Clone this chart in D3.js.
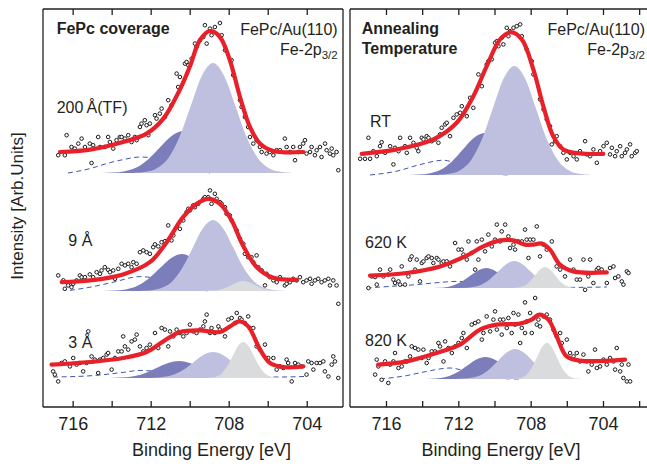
<!DOCTYPE html>
<html><head><meta charset="utf-8">
<script src="https://cdn.jsdelivr.net/npm/d3@7"></script>
<style>body{margin:0;background:#fff}svg{display:block;font-family:"Liberation Sans",Arial,sans-serif}</style>
</head><body><svg id="c" width="647" height="466"></svg>
<script>
// ---------- axis ticks ----------
const energyTicks = [716,714,712,710,708,706,704,702];
const energyLabels = [716,712,708,704];

// ---------- stack offsets (baseline of each spectrum, arb. units) ----------
const coverageOffsets = [11.7, 5.8, 1.45];
const annealOffsets = [11.6, 5.95, 1.4];
const coverageLabels = ["200\u2009Å(TF)", "9 Å", "3 Å"];
const annealLabels = ["RT", "620 K", "820 K"];

// ================= FePc coverage: 200 Å (TF) =================
const cov200Fit = [[716.65,1.05],[715.11,1.17],[713.42,1.55],[712.21,1.97],[711.35,2.72],[710.52,4.14],[710.0,5.3],[709.48,6.64],[708.96,7.1],[708.45,6.8],[707.94,5.64],[707.42,3.8],[706.91,2.3],[706.4,1.47],[705.71,1.1],[704.17,1.05]];
const cov200Dash = [[716.24,0],[715.11,0.22],[714.26,0.47],[713.41,0.67],[712.55,0.8],[712.04,0.77],[711.01,0.5],[709.98,0.25],[708.96,0]];
const cov200Dark = [[706.13,0],[706.73,0.02],[707.33,0.09],[707.93,0.28],[708.53,0.68],[709.13,1.27],[709.73,1.85],[710.33,2.1],[710.93,1.85],[711.53,1.27],[712.13,0.68],[712.73,0.28],[713.33,0.09],[713.93,0.02],[714.53,0]];
const cov200Light = [[704.78,0.01],[705.35,0.06],[705.93,0.24],[706.5,0.74],[707.08,1.79],[707.65,3.34],[708.23,4.85],[708.8,5.5],[709.38,4.85],[709.95,3.34],[710.53,1.79],[711.1,0.74],[711.68,0.24],[712.25,0.06],[712.83,0.01]];
const cov200Pts = [[716.74,0.89],[716.40,0.89],[716.31,1.89],[716.06,1.30],[715.89,1.22],[715.71,1.47],[715.54,1.72],[715.37,1.30],[715.12,1.47],[715.03,0.50],[714.95,1.39],[714.69,1.80],[714.60,1.30],[714.35,1.30],[714.18,1.80],[714.09,1.55],[713.92,1.22],[713.75,1.64],[713.58,1.80],[713.49,1.80],[713.32,1.72],[713.15,1.89],[712.98,1.55],[712.81,1.80],[712.72,1.64],[712.55,2.30],[712.47,2.47],[712.30,2.64],[712.21,2.39],[712.12,1.89],[712.04,2.47],[711.78,2.89],[711.70,2.72],[711.53,2.97],[711.44,3.22],[711.27,2.80],[711.10,3.64],[710.93,3.39],[710.67,4.97],[710.59,4.30],[710.50,4.80],[710.24,5.47],[710.16,5.55],[710.07,5.39],[709.90,5.72],[709.73,6.47],[709.65,6.30],[709.47,6.64],[709.30,6.80],[709.22,7.39],[709.13,6.47],[708.96,7.22],[708.88,6.89],[708.71,7.30],[708.45,7.50],[708.36,6.89],[708.19,6.14],[707.85,5.64],[707.77,4.89],[707.42,3.64],[707.34,3.30],[707.17,2.80],[707.00,2.30],[706.91,1.80],[706.74,1.47],[706.57,1.64],[706.40,1.30],[706.31,1.05],[706.06,0.97],[705.89,1.05],[705.71,0.89],[705.54,1.14],[705.37,1.14],[705.12,1.72],[705.03,1.30],[704.86,1.05],[704.69,1.30],[704.60,0.64],[704.43,1.05],[704.35,1.30],[704.18,1.47],[704.09,1.64],[704.01,0.97],[703.83,1.05],[703.75,1.30],[703.58,0.89],[703.49,1.14],[703.32,1.30],[703.24,0.80],[703.06,1.47],[702.98,1.14],[702.81,0.97],[702.72,1.22],[702.64,0.89],[702.47,1.05],[702.38,0.14]];

// ================= FePc coverage: 9 Å =================
const cov9Fit = [[716.56,0.44],[715.11,0.53],[713.42,0.83],[712.04,1.44],[711.18,2.44],[710.34,3.69],[709.64,4.36],[709.06,4.61],[708.45,4.36],[707.85,3.53],[707.27,2.28],[706.56,1.19],[705.71,0.66],[704.51,0.56]];
const cov9Dash = [[716.14,0.03],[715.11,0.19],[713.92,0.44],[712.55,0.72],[711.87,0.66],[711.01,0.43],[709.98,0.13],[708.96,0]];
const cov9Dark = [[706.38,0],[706.95,0.02],[707.53,0.08],[708.1,0.25],[708.68,0.6],[709.25,1.12],[709.83,1.63],[710.4,1.85],[710.98,1.63],[711.55,1.12],[712.13,0.6],[712.7,0.25],[713.28,0.08],[713.85,0.02],[714.43,0]];
const cov9Light = [[705.13,0.01],[705.65,0.04],[706.18,0.16],[706.7,0.48],[707.23,1.15],[707.75,2.15],[708.28,3.13],[708.8,3.55],[709.33,3.13],[709.85,2.15],[710.38,1.15],[710.9,0.48],[711.43,0.16],[711.95,0.04],[712.48,0.01]];
const cov9Gray = [[705.15,0],[705.45,0.01],[705.75,0.02],[706.05,0.07],[706.35,0.16],[706.65,0.3],[706.95,0.44],[707.25,0.5],[707.55,0.44],[707.85,0.3],[708.15,0.16],[708.45,0.07],[708.75,0.02],[709.05,0.01],[709.35,0]];
const cov9Pts = [[716.74,0.78],[716.48,0.53],[716.40,0.11],[716.23,0.28],[716.06,0.19],[715.97,0.36],[715.80,0.53],[715.63,0.78],[715.54,0.69],[715.37,0.69],[715.12,0.83],[714.95,0.69],[714.77,0.94],[714.60,0.86],[714.52,1.03],[714.35,1.19],[714.18,1.06],[714.09,0.94],[713.92,1.03],[713.83,0.61],[713.66,1.11],[713.49,1.36],[713.32,1.28],[713.15,1.36],[712.98,1.19],[712.89,1.44],[712.72,1.36],[712.55,1.94],[712.38,2.03],[712.21,1.94],[712.04,1.86],[711.87,2.19],[711.78,2.33],[711.61,2.23],[711.44,2.44],[711.27,2.49],[711.10,3.28],[710.93,2.53],[710.84,2.78],[710.67,3.19],[710.50,3.11],[710.33,3.53],[710.16,3.94],[710.07,4.11],[709.99,4.03],[709.82,4.28],[709.73,4.19],[709.56,4.36],[709.30,4.61],[709.22,4.69],[709.05,4.69],[708.96,5.03],[708.88,4.36],[708.71,4.86],[708.62,4.61],[708.45,4.44],[708.36,4.36],[708.19,4.19],[708.11,3.86],[707.94,3.78],[707.85,3.53],[707.59,3.03],[707.42,2.61],[707.25,2.36],[707.17,1.86],[707.00,1.69],[706.83,1.69],[706.74,1.44],[706.57,1.78],[706.48,1.19],[706.31,1.03],[706.14,0.28],[706.06,0.86],[705.89,0.69],[705.71,0.53],[705.54,0.44],[705.37,0.69],[705.12,0.28],[705.03,0.36],[704.86,0.44],[704.69,0.61],[704.52,0.53],[704.35,0.69],[704.18,0.44],[704.01,0.53],[703.83,0.61],[703.75,0.36],[703.58,0.53],[703.41,0.61],[703.24,0.44],[703.07,0.53],[702.89,0.61],[702.81,0.28],[702.64,0.53],[702.47,0.28],[702.38,-0.64]];

// ================= FePc coverage: 3 Å =================
const cov3Fit = [[717.08,0.67],[715.11,0.8],[713.41,1.0],[712.21,1.3],[711.35,1.83],[710.5,2.3],[709.47,2.38],[708.45,2.3],[707.93,2.58],[707.45,2.83],[707.0,2.58],[706.39,1.42],[705.88,0.75],[705.2,0.55],[704.17,0.58]];
const cov3Dash = [[717.0,0.05],[715.11,0.11],[713.41,0.28],[712.55,0.38],[711.95,0.35],[710.5,0.2],[708.45,0.06],[705.46,0.05],[704.0,0.08]];
const cov3Dark = [[706.7,0],[707.25,0.01],[707.8,0.04],[708.35,0.11],[708.9,0.28],[709.45,0.52],[710.0,0.75],[710.55,0.85],[711.1,0.75],[711.65,0.52],[712.2,0.28],[712.75,0.11],[713.3,0.04],[713.85,0.01],[714.4,0]];
const cov3Light = [[705.3,0],[705.8,0.01],[706.3,0.06],[706.8,0.18],[707.3,0.42],[707.8,0.79],[708.3,1.15],[708.8,1.3],[709.3,1.15],[709.8,0.79],[710.3,0.42],[710.8,0.18],[711.3,0.06],[711.8,0.01],[712.3,0]];
const cov3Gray = [[705.33,0],[705.6,0.02],[705.88,0.08],[706.15,0.24],[706.43,0.59],[706.7,1.09],[706.98,1.59],[707.25,1.8],[707.53,1.59],[707.8,1.09],[708.08,0.59],[708.35,0.24],[708.63,0.08],[708.9,0.02],[709.18,0]];
const cov3Pts = [[717.0,0.33],[716.91,0.17],[716.74,-0.17],[716.57,0.75],[716.40,0.83],[716.14,0.58],[715.97,1.0],[715.80,0.67],[715.63,0.75],[715.46,0.33],[715.29,0.75],[715.20,2.33],[715.03,1.08],[714.86,0.92],[714.69,0.25],[714.60,0.92],[714.43,1.0],[714.26,1.17],[714.18,1.25],[714.00,0.42],[713.83,1.0],[713.66,1.33],[713.49,1.33],[713.41,2.08],[713.32,1.58],[713.15,1.42],[712.98,1.83],[712.81,1.92],[712.72,2.17],[712.55,1.58],[712.38,1.33],[712.21,1.5],[712.04,1.67],[711.78,2.25],[711.61,1.5],[711.44,2.5],[711.27,2.42],[711.10,1.58],[711.01,2.33],[710.84,2.08],[710.67,2.42],[710.50,2.25],[710.33,2.08],[710.16,2.25],[709.99,2.67],[709.82,2.33],[709.65,2.25],[709.47,2.42],[709.30,2.58],[709.22,2.83],[709.13,3.17],[708.96,2.25],[708.88,2.5],[708.71,2.25],[708.53,2.58],[708.45,2.42],[708.19,2.08],[708.02,2.92],[707.85,3.0],[707.68,2.75],[707.59,3.25],[707.42,3.0],[707.34,2.92],[707.17,2.75],[707.0,3.08],[706.91,2.5],[706.74,2.5],[706.57,1.58],[706.40,1.42],[706.14,1.67],[705.97,1.0],[705.71,1.0],[705.54,0.42],[705.37,0.58],[705.20,0.5],[705.03,0.92],[704.95,0.75],[704.77,-0.17],[704.60,0.75],[704.43,0.67],[704.26,0.58],[704.01,0.17],[703.92,0.83],[703.75,0.75],[703.66,0.42],[703.49,0.75],[703.32,0.75],[703.15,0.83],[703.07,0.33],[702.89,0.08],[702.72,0.67],[702.64,1.08],[702.55,0.83],[702.38,0.0]];

// ================= Annealing: RT =================
const rtFit = [[717.34,1.06],[715.41,1.28],[713.38,1.78],[712.09,2.61],[711.17,3.94],[710.43,5.44],[709.69,6.78],[709.1,7.14],[708.49,6.78],[707.85,5.28],[707.3,3.44],[706.75,1.94],[706.19,1.28],[705.27,1.08],[703.98,1.06]];
const rtDash = [[716.88,0],[715.41,0.19],[714.12,0.52],[712.83,0.74],[712.28,0.64],[711.35,0.38],[710.25,0.08],[709.14,0]];
const rtDark = [[706.35,0],[706.95,0.02],[707.55,0.09],[708.15,0.28],[708.75,0.68],[709.35,1.27],[709.95,1.85],[710.55,2.1],[711.15,1.85],[711.75,1.27],[712.35,0.68],[712.95,0.28],[713.55,0.09],[714.15,0.02],[714.75,0]];
const rtLight = [[704.7,0.01],[705.3,0.06],[705.9,0.24],[706.5,0.74],[707.1,1.77],[707.7,3.31],[708.3,4.81],[708.9,5.45],[709.5,4.81],[710.1,3.31],[710.7,1.77],[711.3,0.74],[711.9,0.24],[712.5,0.06],[713.1,0.01]];
const rtPts = [[717.43,0.81],[717.16,0.81],[716.97,1.86],[716.88,0.81],[716.70,1.19],[716.51,0.94],[716.33,1.44],[716.24,1.64],[716.05,1.11],[715.77,1.44],[715.59,0.53],[715.50,1.36],[715.31,1.19],[715.22,1.86],[714.95,1.44],[714.85,1.11],[714.67,1.86],[714.48,1.61],[714.30,1.36],[714.21,1.19],[714.02,1.86],[713.93,1.78],[713.75,1.94],[713.65,1.86],[713.47,1.69],[713.29,1.78],[713.10,1.61],[713.01,2.03],[712.92,2.36],[712.73,2.53],[712.64,2.61],[712.46,1.94],[712.27,2.86],[712.09,3.03],[711.90,3.11],[711.81,3.44],[711.53,2.94],[711.35,3.86],[711.17,3.36],[710.89,5.03],[710.70,4.44],[710.43,5.53],[710.34,5.69],[710.15,5.78],[709.97,6.61],[709.87,6.69],[709.78,6.44],[709.60,6.86],[709.51,6.53],[709.32,7.36],[709.23,6.94],[709.14,7.19],[708.95,7.36],[708.77,7.44],[708.58,7.53],[708.49,6.94],[708.22,6.28],[707.94,5.69],[707.85,5.03],[707.48,3.78],[707.29,3.28],[707.11,2.78],[706.93,2.44],[706.83,1.53],[706.65,1.69],[706.56,1.94],[706.37,1.44],[706.19,1.11],[706.00,0.78],[705.82,1.11],[705.63,0.94],[705.45,0.78],[705.27,1.19],[704.99,1.69],[704.90,1.03],[704.71,0.94],[704.53,1.28],[704.34,0.61],[704.16,1.19],[703.97,1.44],[703.79,1.61],[703.61,1.03],[703.51,1.36],[703.33,0.94],[703.24,1.19],[703.05,1.44],[702.96,0.94],[702.78,1.11],[702.68,1.28],[702.50,1.53],[702.41,0.94],[702.22,1.11],[702.13,1.19]];

// ================= Annealing: 620 K =================
const k620Fit = [[716.88,0.62],[714.86,0.75],[713.01,1.08],[711.54,1.62],[710.62,2.08],[709.69,2.38],[708.96,2.38],[708.31,2.17],[707.85,2.17],[707.39,2.22],[706.93,1.92],[706.38,1.17],[705.64,0.83],[703.79,0.78]];
const k620Dash = [[717.07,0],[715.78,0.08],[714.30,0.17],[713.01,0.28],[712.09,0.33],[710.8,0.25],[708.59,0.05],[705.82,0.03],[703.79,0.05]];
const k620Dark = [[707.3,0],[707.75,0.01],[708.2,0.04],[708.65,0.14],[709.1,0.33],[709.55,0.61],[710.0,0.88],[710.45,1.0],[710.9,0.88],[711.35,0.61],[711.8,0.33],[712.25,0.14],[712.7,0.04],[713.15,0.01],[713.6,0]];
const k620Light = [[705.75,0],[706.2,0.01],[706.65,0.06],[707.1,0.18],[707.55,0.44],[708.0,0.82],[708.45,1.19],[708.9,1.35],[709.35,1.19],[709.8,0.82],[710.25,0.44],[710.7,0.18],[711.15,0.06],[711.6,0.01],[712.05,0]];
const k620Gray = [[705.28,0],[705.55,0.01],[705.83,0.05],[706.1,0.14],[706.38,0.34],[706.65,0.64],[706.93,0.93],[707.2,1.05],[707.48,0.93],[707.75,0.64],[708.03,0.34],[708.3,0.14],[708.58,0.05],[708.85,0.01],[709.13,0]];
const k620Pts = [[716.97,0.0],[716.79,0.58],[716.60,0.55],[716.51,0.17],[716.33,0.92],[716.14,0.58],[715.87,0.67],[715.77,0.92],[715.59,0.42],[715.50,0.25],[715.31,0.33],[715.22,0.17],[715.13,1.08],[714.95,0.17],[714.76,0.58],[714.67,1.42],[714.58,1.58],[714.39,0.92],[714.30,1.42],[714.12,0.33],[714.02,1.25],[713.93,1.33],[713.75,1.5],[713.65,1.58],[713.47,1.5],[713.38,1.25],[713.19,1.5],[713.10,1.42],[712.92,1.25],[712.82,1.33],[712.64,1.33],[712.46,1.08],[712.18,2.25],[711.99,1.92],[711.81,1.92],[711.72,1.67],[711.53,1.42],[711.44,2.33],[711.26,1.75],[711.07,0.92],[710.98,2.33],[710.89,1.42],[710.70,2.42],[710.52,1.83],[710.34,2.67],[710.15,2.08],[709.97,2.42],[709.87,3.17],[709.69,2.33],[709.60,2.83],[709.41,3.17],[709.23,2.58],[709.14,2.0],[708.95,2.17],[708.86,1.92],[708.68,2.33],[708.49,2.33],[708.31,2.92],[708.22,2.42],[708.12,1.5],[708.03,2.42],[707.85,2.42],[707.66,3.08],[707.48,1.58],[707.29,2.17],[707.11,1.92],[706.83,2.33],[706.56,1.08],[706.37,0.92],[706.10,0.58],[705.82,1.42],[705.63,0.92],[705.45,0.42],[705.27,0.42],[705.08,1.42],[704.99,-0.09],[704.81,0.58],[704.71,1.42],[704.53,0.25],[704.34,0.92],[704.25,1.0],[704.07,0.92],[703.79,0.25],[703.61,1.0],[703.42,1.08],[703.33,0.5],[703.15,0.58],[702.96,0.33],[702.87,0.17],[702.68,0.83],[702.59,0.75],[708.31,-0.72],[707.75,-0.5]];

// ================= Annealing: 820 K =================
const k820Fit = [[716.43,0.72],[714.86,0.88],[713.2,1.3],[711.91,1.72],[710.8,2.47],[709.88,2.72],[708.59,2.77],[707.94,2.97],[707.52,3.22],[707.02,2.97],[706.56,2.13],[706.01,1.13],[705.27,0.92],[702.78,0.97]];
const k820Dash = [[716.33,0],[714.86,0.17],[713.75,0.38],[712.46,0.55],[711.91,0.47],[711.08,0.27],[709.97,0.04],[708.59,0]];
const k820Dark = [[707.0,0],[707.5,0.01],[708.0,0.05],[708.5,0.15],[709.0,0.36],[709.5,0.67],[710.0,0.97],[710.5,1.1],[711.0,0.97],[711.5,0.67],[712.0,0.36],[712.5,0.15],[713.0,0.05],[713.5,0.01],[714.0,0]];
const k820Light = [[705.53,0],[706.0,0.02],[706.48,0.07],[706.95,0.2],[707.43,0.49],[707.9,0.91],[708.38,1.32],[708.85,1.5],[709.33,1.32],[709.8,0.91],[710.28,0.49],[710.75,0.2],[711.23,0.07],[711.7,0.02],[712.18,0]];
const k820Gray = [[705.18,0],[705.45,0.02],[705.73,0.08],[706.0,0.24],[706.28,0.59],[706.55,1.09],[706.83,1.59],[707.1,1.8],[707.38,1.59],[707.65,1.09],[707.93,0.59],[708.2,0.24],[708.48,0.08],[708.75,0.02],[709.03,0]];
const k820Pts = [[716.60,0.22],[716.51,0.97],[716.42,0.63],[716.24,-0.04],[716.05,0.88],[715.87,-0.2],[715.77,0.72],[715.59,0.88],[715.50,1.3],[715.31,0.55],[715.13,0.63],[714.95,0.88],[714.85,0.88],[714.67,1.13],[714.58,1.63],[714.39,1.55],[714.21,1.47],[714.02,1.05],[713.93,1.47],[713.75,0.8],[713.65,1.05],[713.47,1.38],[713.29,1.38],[713.10,1.8],[713.01,1.63],[712.82,0.88],[712.73,1.88],[712.55,1.55],[712.36,1.3],[712.18,1.63],[711.99,1.8],[711.81,2.05],[711.72,2.3],[711.53,1.55],[711.26,2.72],[711.07,2.8],[710.89,2.88],[710.70,1.97],[710.61,2.3],[710.43,3.13],[710.24,2.38],[710.06,2.97],[709.97,3.38],[709.87,2.47],[709.69,2.97],[709.60,2.22],[709.51,2.97],[709.32,2.55],[709.23,3.05],[709.05,2.3],[708.95,3.3],[708.86,2.72],[708.68,3.22],[708.58,1.8],[708.49,2.55],[708.31,2.3],[708.22,2.88],[708.03,3.3],[707.94,2.3],[707.66,2.72],[707.57,2.97],[707.48,2.63],[707.29,3.13],[707.11,3.22],[706.93,2.97],[706.74,2.47],[706.56,2.13],[706.37,2.3],[706.28,1.8],[706.00,1.97],[705.82,1.3],[705.63,1.13],[705.45,1.3],[705.27,0.88],[705.08,1.22],[704.90,0.88],[704.81,0.38],[704.62,0.72],[704.44,1.47],[704.34,0.55],[704.16,0.63],[703.97,0.97],[703.79,0.72],[703.61,1.05],[703.42,0.88],[703.33,0.47],[703.24,1.55],[703.05,0.38],[702.96,0.72],[702.87,0.05],[702.68,-0.12],[702.59,0.72],[702.50,-0.12]];

// ---------- assemble ----------
const spectraLeft = [
  {fit:cov200Fit, dash:cov200Dash, comps:[["dark",cov200Dark],["light",cov200Light]], pts:cov200Pts},
  {fit:cov9Fit, dash:cov9Dash, comps:[["dark",cov9Dark],["light",cov9Light],["gray",cov9Gray]], pts:cov9Pts},
  {fit:cov3Fit, dash:cov3Dash, comps:[["dark",cov3Dark],["light",cov3Light],["gray",cov3Gray]], pts:cov3Pts}
];
const spectraRight = [
  {fit:rtFit, dash:rtDash, comps:[["dark",rtDark],["light",rtLight]], pts:rtPts},
  {fit:k620Fit, dash:k620Dash, comps:[["dark",k620Dark],["light",k620Light],["gray",k620Gray]], pts:k620Pts},
  {fit:k820Fit, dash:k820Dash, comps:[["dark",k820Dark],["light",k820Light],["gray",k820Gray]], pts:k820Pts}
];

const compColor = {dark:"#7b7ebb", light:"#bfbfdf", gray:"#dadbdd"};
const ink = "#231f20";
const svg = d3.select("#c");

const y = d3.scaleLinear().domain([0,19.9]).range([407,9]);

const panels = [
  {range:[43,343], domain:[717.52,702.14], spectra:spectraLeft, offsets:coverageOffsets, labels:coverageLabels,
   labelPos:[[56.7,113.3],[68.3,246],[68.3,348.3]], title:["FePc coverage"], titleX:56.7, rightX:337.7, xlabelX:211.5, closed:true},
  {range:[350,650], domain:[717.99,701.40], spectra:spectraRight, offsets:annealOffsets, labels:annealLabels,
   labelPos:[[370,126.7],[365,248.3],[365,346]], title:["Annealing","Temperature"], titleX:361.7, rightX:645, xlabelX:501, closed:false}
];

const byE = a => a.slice().sort((p,q)=>q[0]-p[0]);

panels.forEach(P => {
  const x = d3.scaleLinear().domain(P.domain).range(P.range);
  const g = svg.append("g");
  const clipId = "clip"+P.range[0];
  svg.append("clipPath").attr("id",clipId).append("rect")
    .attr("x",P.range[0]).attr("y",9).attr("width",P.range[1]-P.range[0]).attr("height",398);
  const plot = g.append("g").attr("clip-path",`url(#${clipId})`);

  P.spectra.forEach((S,i) => {
    const off = P.offsets[i];
    plot.append("path").datum(byE(S.dash))
      .attr("d", d3.line().x(d=>x(d[0])).y(d=>y(off+d[1])).curve(d3.curveMonotoneX))
      .attr("fill","none").attr("stroke","#3d55b5").attr("stroke-width",1)
      .attr("stroke-dasharray","5,3.5");
    S.comps.forEach(([kind,data]) => {
      plot.append("path").datum(byE(data))
        .attr("d", d3.area().x(d=>x(d[0])).y0(y(off)).y1(d=>y(off+d[1])).curve(d3.curveMonotoneX))
        .attr("fill",compColor[kind]);
    });
    plot.append("g").selectAll("circle").data(S.pts).join("circle")
      .attr("cx",d=>x(d[0])).attr("cy",d=>y(off+d[1])).attr("r",1.8)
      .attr("fill","#fff").attr("stroke","#1a1a1a").attr("stroke-width",1);
    plot.append("path").datum(byE(S.fit))
      .attr("d", d3.line().x(d=>x(d[0])).y(d=>y(off+d[1])).curve(d3.curveCatmullRom.alpha(0.5)))
      .attr("fill","none").attr("stroke","#e8202a").attr("stroke-width",4.2)
      .attr("stroke-linecap","round").attr("stroke-linejoin","round");
    g.append("text").attr("x",P.labelPos[i][0]).attr("y",P.labelPos[i][1])
      .attr("font-size",16).attr("fill",ink).text(P.labels[i]);
  });

  const fr = g.append("g").attr("stroke",ink).attr("stroke-width",1.3).attr("fill","none");
  fr.append("line").attr("x1",P.range[0]).attr("x2",P.range[0]).attr("y1",9).attr("y2",407);
  fr.append("line").attr("x1",P.range[0]).attr("x2",P.range[1]).attr("y1",9).attr("y2",9);
  fr.append("line").attr("x1",P.range[0]).attr("x2",P.range[1]).attr("y1",407).attr("y2",407);
  if (P.closed) fr.append("line").attr("x1",P.range[1]).attr("x2",P.range[1]).attr("y1",9).attr("y2",407);

  const tv = energyTicks.filter(t => x(t) > P.range[0]+2 && x(t) < P.range[1]-1);
  const ab = g.append("g").attr("transform","translate(0,407)")
    .call(d3.axisBottom(x).tickValues(tv).tickSize(-6).tickPadding(10)
      .tickFormat(d => energyLabels.includes(d) ? d : ""));
  ab.select(".domain").remove();
  ab.selectAll("line").attr("stroke",ink).attr("stroke-width",1.3);
  ab.selectAll("text").attr("font-size",18).attr("fill",ink).attr("font-family","Liberation Sans, Arial, sans-serif");
  const at = g.append("g").attr("transform","translate(0,9)")
    .call(d3.axisTop(x).tickValues(tv).tickSize(-6).tickFormat(""));
  at.select(".domain").remove();
  at.selectAll("line").attr("stroke",ink).attr("stroke-width",1.3);

  P.title.forEach((t,j) => g.append("text").attr("x",P.titleX).attr("y",34.3+j*19.7)
    .attr("font-size",16).attr("font-weight","bold").attr("fill",ink).text(t));
  g.append("text").attr("x",P.rightX).attr("y",34.5).attr("text-anchor","end")
    .attr("font-size",16).attr("fill",ink).text("FePc/Au(110)");
  const t2 = g.append("text").attr("x",P.rightX).attr("y",54.5).attr("text-anchor","end")
    .attr("font-size",16).attr("fill",ink);
  t2.append("tspan").text("Fe-2p");
  t2.append("tspan").attr("font-size",11.5).attr("dy",4.5).text("3/2");

  g.append("text").attr("x",P.xlabelX).attr("y",456).attr("text-anchor","middle")
    .attr("font-size",18).attr("fill",ink).text("Binding Energy [eV]");
});

svg.append("text").attr("transform","translate(23,206) rotate(-90)").attr("text-anchor","middle")
  .attr("font-size",17).attr("fill",ink).text("Intensity [Arb.Units]");
</script></body></html>
